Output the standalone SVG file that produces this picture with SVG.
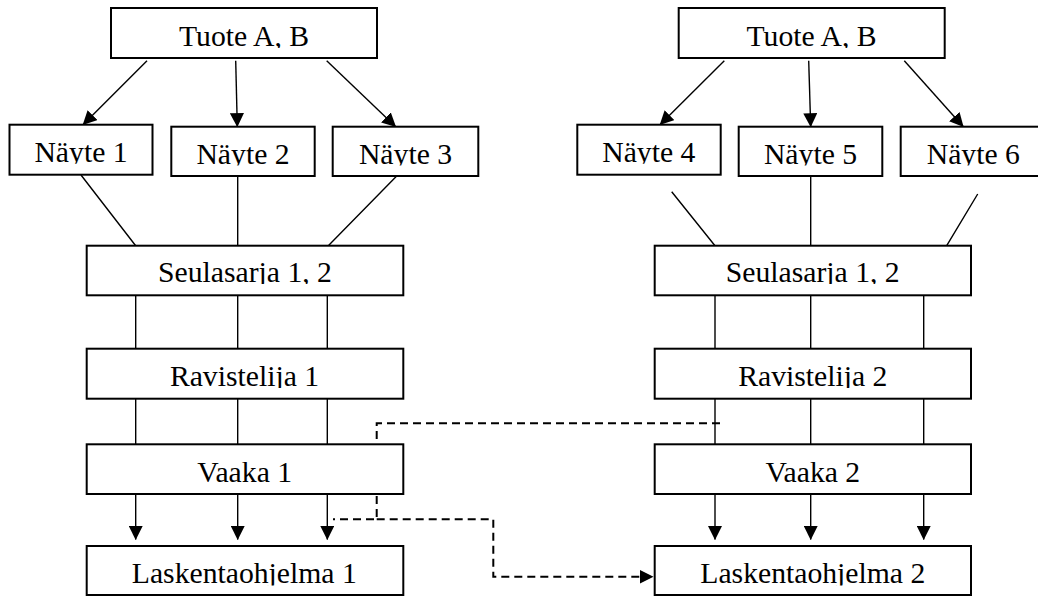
<svg xmlns="http://www.w3.org/2000/svg" width="1038" height="596" viewBox="0 0 1038 596">
<style>
.box{fill:#fff;stroke:#000;stroke-width:2}
.t{font-family:"Liberation Serif","Times New Roman",serif;font-size:29.7px;fill:#000;text-anchor:middle}
.ln{fill:none;stroke:#000;stroke-width:1.4}
.ar{fill:none;stroke:#000;stroke-width:1.4;marker-end:url(#ah)}
.da{fill:none;stroke:#000;stroke-width:2;stroke-dasharray:8 5}
</style>
<defs>
<marker id="ah" markerUnits="userSpaceOnUse" markerWidth="14" markerHeight="14" viewBox="0 0 14 14" refX="13.5" refY="7" orient="auto">
<path d="M0,0 L14,7 L0,14 z" fill="#000"/>
</marker>
<clipPath id="tc" clipPathUnits="userSpaceOnUse">
<rect x="0" y="0" width="1038" height="48"/>
<rect x="0" y="100" width="160" height="63.7"/>
<rect x="160" y="100" width="416" height="65.5"/>
<rect x="576" y="100" width="150" height="63.7"/>
<rect x="726" y="100" width="312" height="65.5"/>
<rect x="0" y="240" width="1038" height="44"/>
<rect x="0" y="340" width="1038" height="48"/>
<rect x="0" y="440" width="1038" height="44"/>
<rect x="0" y="540" width="1038" height="45.5"/>
</clipPath>
</defs>
<rect width="1038" height="596" fill="#fff"/>
<g id="connectors">
<path class="ar" d="M147,60.7 L83,124.7"/>
<path class="ar" d="M235.7,60.7 L237.3,126.7"/>
<path class="ar" d="M326.7,60.7 L395.7,126.7"/>
<path class="ar" d="M724.3,60.7 L660,124.7"/>
<path class="ar" d="M808.7,60.7 L810.7,126.7"/>
<path class="ar" d="M904.3,60.7 L963.3,126.7"/>
<path class="ln" d="M81,175 L135.7,245.7 M237.7,176 V245.7 M396.7,176 L328.3,245.7"/>
<path class="ln" d="M671.7,191.7 L715,245.7 M810.7,176 V245.7 M977.7,194 L946.7,245.7"/>
<path class="ln" d="M135.7,295.3 V348.7 M237.7,295.3 V348.7 M327.3,295.3 V348.7 M135.7,398.7 V444.3 M237.7,398.7 V444.3 M327.3,398.7 V444.3"/>
<path class="ln" d="M715,295.3 V348.7 M810.7,295.3 V348.7 M923.7,295.3 V348.7 M715,398.7 V444.3 M810.7,398.7 V444.3 M923.7,398.7 V444.3"/>
<path class="ar" d="M135.7,494 V539.5"/>
<path class="ar" d="M237.7,494 V539.5"/>
<path class="ar" d="M327.3,494 V539.5"/>
<path class="ar" d="M715,494 V539.5"/>
<path class="ar" d="M810.7,494 V539.5"/>
<path class="ar" d="M923.7,494 V539.5"/>
<path class="da" d="M720,423.3 H376.7 V519.3 H333"/>
<path class="da" d="M376.7,519.3 H493.3 V576.7 H645"/>
<path d="M640,570 L653.5,576.7 L640,583.4 z" fill="#000"/>
</g>
<g id="tuote-left"><rect class="box" x="111" y="8" width="266" height="50"/><text class="t" x="244" y="45.8" clip-path="url(#tc)">Tuote A, B</text></g>
<g id="nayte1"><rect class="box" x="9.5" y="124.7" width="143" height="50"/><text class="t" x="81" y="161.7" clip-path="url(#tc)">Näyte 1</text></g>
<g id="nayte2"><rect class="box" x="171.3" y="126.7" width="143.4" height="49.3"/><text class="t" x="243" y="163.5" clip-path="url(#tc)">Näyte 2</text></g>
<g id="nayte3"><rect class="box" x="332.7" y="126.7" width="145.6" height="49.3"/><text class="t" x="405.5" y="163.5" clip-path="url(#tc)">Näyte 3</text></g>
<g id="seula-left"><rect class="box" x="86.7" y="245.7" width="316.6" height="49.6"/><text class="t" x="245" y="282" clip-path="url(#tc)">Seulasarja 1, 2</text></g>
<g id="rav1"><rect class="box" x="86.7" y="348.7" width="316.6" height="50"/><text class="t" x="244.5" y="386" clip-path="url(#tc)">Ravistelija 1</text></g>
<g id="vaaka1"><rect class="box" x="86.7" y="444.3" width="316.6" height="49.7"/><text class="t" x="244.7" y="481.7" clip-path="url(#tc)">Vaaka 1</text></g>
<g id="lask1"><rect class="box" x="86.7" y="546" width="316.6" height="49"/><text class="t" x="244.3" y="583.3" clip-path="url(#tc)">Laskentaohjelma 1</text></g>
<g id="tuote-right"><rect class="box" x="678.7" y="8" width="266" height="50"/><text class="t" x="811.5" y="45.8" clip-path="url(#tc)">Tuote A, B</text></g>
<g id="nayte4"><rect class="box" x="577.3" y="124.7" width="143.4" height="50"/><text class="t" x="648.8" y="161.7" clip-path="url(#tc)">Näyte 4</text></g>
<g id="nayte5"><rect class="box" x="738.7" y="126.7" width="143.6" height="49.3"/><text class="t" x="810.5" y="163.5" clip-path="url(#tc)">Näyte 5</text></g>
<g id="nayte6"><rect class="box" x="900.7" y="126.7" width="145.3" height="49.3"/><text class="t" x="973.3" y="163.5" clip-path="url(#tc)">Näyte 6</text></g>
<g id="seula-right"><rect class="box" x="654.7" y="245.7" width="316.3" height="49.6"/><text class="t" x="812.7" y="282" clip-path="url(#tc)">Seulasarja 1, 2</text></g>
<g id="rav2"><rect class="box" x="654.7" y="348.7" width="316.3" height="50"/><text class="t" x="812.8" y="386" clip-path="url(#tc)">Ravistelija 2</text></g>
<g id="vaaka2"><rect class="box" x="654.7" y="444.3" width="316.3" height="49.7"/><text class="t" x="812.8" y="481.7" clip-path="url(#tc)">Vaaka 2</text></g>
<g id="lask2"><rect class="box" x="654.7" y="546" width="316.3" height="49"/><text class="t" x="812.8" y="583.3" clip-path="url(#tc)">Laskentaohjelma 2</text></g>
</svg>
